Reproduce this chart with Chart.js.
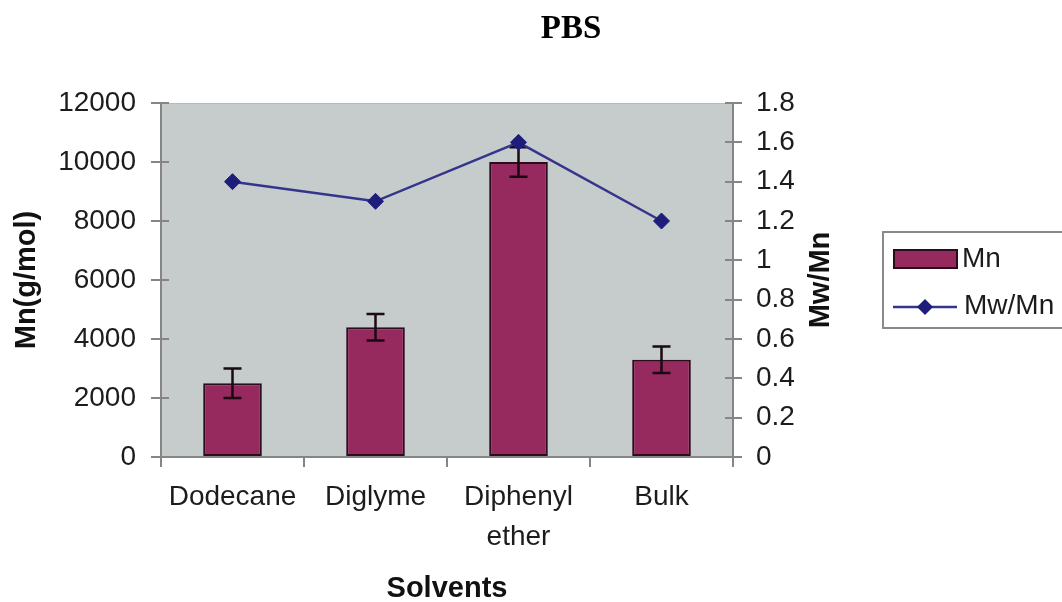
<!DOCTYPE html>
<html>
<head>
<meta charset="utf-8">
<script src="https://cdn.jsdelivr.net/npm/chart.js@4/dist/chart.umd.min.js"></script>
<style>
html,body{margin:0;padding:0;background:#fff;}
#wrap{width:1062px;height:602px;position:relative;}
</style>
</head>
<body>
<div id="wrap"><canvas id="c" width="1062" height="602"></canvas></div>
<script>
const categories = [['Dodecane'], ['Diglyme'], ['Diphenyl', 'ether'], ['Bulk']];
const mnValues = [2500, 4400, 10000, 3300];
const mnErrors = [500, 450, 500, 450];
const mwMnValues = [1.4, 1.3, 1.6, 1.2];
const leftTicks = [0, 2000, 4000, 6000, 8000, 10000, 12000];
const rightTicks = [0, 0.2, 0.4, 0.6, 0.8, 1, 1.2, 1.4, 1.6, 1.8];
const chartTitle = 'PBS';
const xTitle = 'Solvents';
const yTitle = 'Mn(g/mol)';
const y1Title = 'Mw/Mn';
const seriesNames = ['Mn', 'Mw/Mn'];

const FONT = '"Liberation Sans", Arial, sans-serif';
const BAR_FILL = '#962a5e';
const BAR_EDGE = '#2a0c1c';
const LINE_COL = '#34348a';
const MARK_COL = '#1e1e7a';
const AXIS_COL = '#858585';
const TXT = '#1c1c1c';

const bgPlugin = {
  id: 'bg',
  beforeDraw(chart) {
    const {ctx, chartArea: a} = chart;
    ctx.save();
    ctx.fillStyle = '#c6cbcb';
    ctx.fillRect(a.left, a.top, a.right - a.left, a.bottom - a.top);
    ctx.strokeStyle = '#b5baba';
    ctx.lineWidth = 1;
    ctx.beginPath();
    ctx.moveTo(a.left, a.top + 0.5); ctx.lineTo(a.right, a.top + 0.5);
    ctx.stroke();
    ctx.restore();
  }
};

const errPlugin = {
  id: 'errbars',
  afterDatasetDraw(chart, args) {
    if (args.index !== 0) return;
    const {ctx} = chart;
    const meta = chart.getDatasetMeta(0);
    const y = chart.scales.y;
    ctx.save();
    ctx.strokeStyle = '#1a0a12';
    ctx.lineWidth = 2.5;
    meta.data.forEach((bar, i) => {
      const x = bar.x;
      const top = y.getPixelForValue(mnValues[i] + mnErrors[i]);
      const bot = y.getPixelForValue(mnValues[i] - mnErrors[i]);
      ctx.beginPath();
      ctx.moveTo(x, top); ctx.lineTo(x, bot);
      ctx.moveTo(x - 9, top); ctx.lineTo(x + 9, top);
      ctx.moveTo(x - 9, bot); ctx.lineTo(x + 9, bot);
      ctx.stroke();
    });
    ctx.restore();
  }
};

const decoPlugin = {
  id: 'deco',
  afterDraw(chart) {
    const {ctx, chartArea: a} = chart;
    const y = chart.scales.y, y1 = chart.scales.y1;
    ctx.save();
    ctx.strokeStyle = AXIS_COL;
    ctx.lineWidth = 2;
    ctx.beginPath();
    y.ticks.forEach(t => {
      const p = Math.round(y.getPixelForValue(t.value));
      ctx.moveTo(a.left, p); ctx.lineTo(a.left + 8, p);
    });
    y1.ticks.forEach(t => {
      const p = Math.round(y1.getPixelForValue(t.value));
      ctx.moveTo(a.right, p); ctx.lineTo(a.right - 8, p);
    });
    ctx.stroke();

    ctx.fillStyle = '#000';
    ctx.textAlign = 'center';
    ctx.textBaseline = 'middle';
    ctx.font = 'bold 33px "Liberation Serif", "Times New Roman", serif';
    ctx.fillText(chartTitle, 571, 29);

    ctx.fillStyle = '#111';
    ctx.font = 'bold 29px ' + FONT;
    ctx.fillText(xTitle, (a.left + a.right) / 2, 589);
    ctx.save();
    ctx.translate(27, 280);
    ctx.rotate(-Math.PI / 2);
    ctx.fillText(yTitle, 0, 0);
    ctx.restore();
    ctx.save();
    ctx.translate(821, 280);
    ctx.rotate(-Math.PI / 2);
    ctx.fillText(y1Title, 0, 0);
    ctx.restore();

    ctx.fillStyle = '#fff';
    ctx.fillRect(883, 232, 190, 96);
    ctx.strokeStyle = '#8a8a8a';
    ctx.lineWidth = 2;
    ctx.strokeRect(883, 232, 190, 96);
    ctx.fillStyle = BAR_FILL;
    ctx.fillRect(894, 250, 63, 18);
    ctx.strokeStyle = BAR_EDGE;
    ctx.lineWidth = 2;
    ctx.strokeRect(894, 250, 63, 18);
    ctx.strokeStyle = LINE_COL;
    ctx.lineWidth = 2.5;
    ctx.beginPath();
    ctx.moveTo(893, 307); ctx.lineTo(957, 307);
    ctx.stroke();
    ctx.fillStyle = MARK_COL;
    ctx.beginPath();
    ctx.moveTo(925, 299); ctx.lineTo(933, 307); ctx.lineTo(925, 315); ctx.lineTo(917, 307);
    ctx.closePath();
    ctx.fill();
    ctx.fillStyle = TXT;
    ctx.textAlign = 'left';
    ctx.font = '28px ' + FONT;
    ctx.fillText(seriesNames[0], 962, 259);
    ctx.fillText(seriesNames[1], 964, 306);
    ctx.restore();
  }
};

new Chart(document.getElementById('c'), {
  data: {
    labels: categories,
    datasets: [
      {
        type: 'bar',
        label: seriesNames[0],
        data: mnValues,
        yAxisID: 'y',
        backgroundColor: BAR_FILL,
        borderColor: BAR_EDGE,
        borderWidth: 2,
        borderSkipped: false,
        barPercentage: 1,
        categoryPercentage: 0.41,
        order: 1
      },
      {
        type: 'line',
        label: seriesNames[1],
        data: mwMnValues,
        yAxisID: 'y1',
        borderColor: LINE_COL,
        borderWidth: 2.5,
        pointStyle: 'rectRot',
        pointRadius: 8,
        pointBackgroundColor: MARK_COL,
        pointBorderColor: MARK_COL,
        pointBorderWidth: 1,
        tension: 0,
        order: 0
      }
    ]
  },
  options: {
    responsive: false,
    animation: false,
    layout: {padding: {top: 103, left: 0, right: 0, bottom: 0}},
    plugins: {legend: {display: false}, tooltip: {enabled: false}, title: {display: false}},
    scales: {
      x: {
        type: 'category',
        offset: true,
        grid: {offset: true, drawOnChartArea: false, drawTicks: true, tickLength: 10, color: AXIS_COL, lineWidth: 2},
        border: {display: true, color: AXIS_COL, width: 2},
        ticks: {font: {family: FONT, size: 28, lineHeight: 1.43}, color: TXT, padding: 10, maxRotation: 0, autoSkip: false},
        afterFit(s) { s.height = 145; }
      },
      y: {
        position: 'left',
        min: 0, max: 12000,
        afterBuildTicks(s) { s.ticks = leftTicks.map(v => ({value: v})); },
        grid: {drawOnChartArea: false, drawTicks: true, tickLength: 10, color: AXIS_COL, lineWidth: 2},
        border: {display: true, color: AXIS_COL, width: 2},
        ticks: {font: {family: FONT, size: 28}, color: TXT, padding: 15, callback: v => String(v)},
        afterFit(s) { s.width = 161; }
      },
      y1: {
        position: 'right',
        min: 0, max: 1.8,
        afterBuildTicks(s) { s.ticks = rightTicks.map(v => ({value: v})); },
        grid: {drawOnChartArea: false, drawTicks: true, tickLength: 9, color: AXIS_COL, lineWidth: 2},
        border: {display: true, color: AXIS_COL, width: 2},
        ticks: {font: {family: FONT, size: 28}, color: TXT, padding: 14, callback: v => String(Math.round(v * 10) / 10)},
        afterFit(s) { s.width = 1062 - 733; }
      }
    }
  },
  plugins: [bgPlugin, errPlugin, decoPlugin]
});
</script>
</body>
</html>
